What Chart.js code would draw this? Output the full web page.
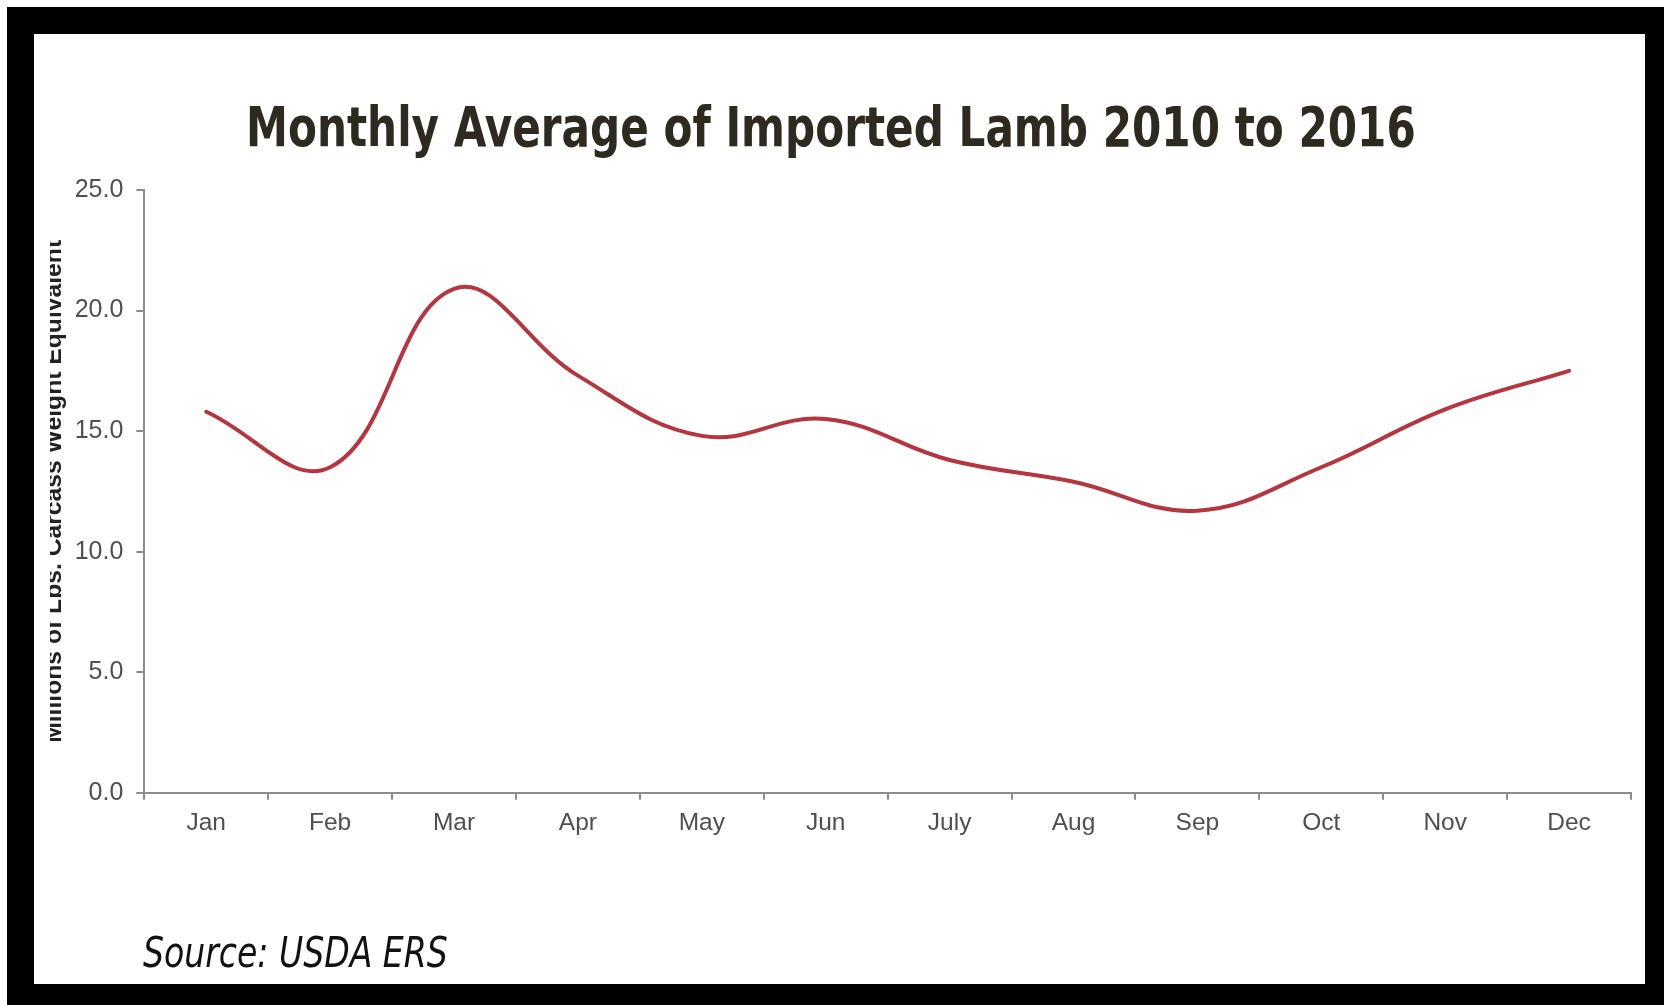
<!DOCTYPE html>
<html>
<head>
<meta charset="utf-8">
<title>Monthly Average of Imported Lamb 2010 to 2016</title>
<script src="https://cdn.jsdelivr.net/npm/chart.js@4.4.1/dist/chart.umd.min.js"></script>
<style>
  html, body { margin: 0; padding: 0; width: 1664px; height: 1005px; overflow: hidden; background: #fff; }
  #frame { position: absolute; left: 7px; top: 7px; width: 1657px; height: 998px; background: #000; }
  #panel { position: absolute; left: 34px; top: 34px; width: 1611px; height: 950px; background: #fff; }
  #wrap { position: absolute; left: 0; top: 0; width: 1611px; height: 950px; }
  #heading { position: absolute; left: 212px; top: 61px; margin: 0; line-height: 55px; white-space: nowrap;
             font: bold 55px 'DejaVu Sans Condensed', 'Liberation Sans Narrow', sans-serif; color: #2e2a1f;
             transform: scaleX(0.852); transform-origin: 0 0; }
  #source { position: absolute; left: 109px; top: 893px; margin: 0; line-height: 42px; white-space: nowrap;
            font: italic 43px 'DejaVu Sans Condensed', 'Liberation Sans Narrow', sans-serif; color: #111;
            transform: scaleX(0.855); transform-origin: 0 0; }
</style>
</head>
<body>
<div id="frame"></div>
<div id="panel">
  <div id="wrap"><canvas id="chart"></canvas></div>
  <h1 id="heading">Monthly Average of Imported Lamb 2010 to 2016</h1>
  <p id="source">Source: USDA ERS</p>
</div>
<script>
// Monthly average imported lamb, millions of lbs. (carcass weight equivalent)
const months = ['Jan', 'Feb', 'Mar', 'Apr', 'May', 'Jun', 'July', 'Aug', 'Sep', 'Oct', 'Nov', 'Dec'];
const importedLamb = [15.8, 13.5, 20.9, 17.3, 14.8, 15.5, 13.8, 12.9, 11.7, 13.5, 15.9, 17.5];
const yTicks = [0, 5, 10, 15, 20, 25];

const yAxisTitle = 'Millions of Lbs. Carcass Weight Equivalent';

const AXIS_GREY = '#8c8c8c';
const TICK_TEXT = '#4f4f4f';

// The axis caption is trimmed along a vertical edge on its left side.
const CLIP_X = 16;
const clipLeftEdge = {
  id: 'clipLeftEdge',
  beforeDraw(chart) {
    const ctx = chart.ctx;
    ctx.save();
    ctx.beginPath();
    ctx.rect(CLIP_X, 0, chart.width - CLIP_X, chart.height);
    ctx.clip();
  },
  afterDraw(chart) {
    chart.ctx.restore();
  }
};

new Chart(document.getElementById('chart'), {
  type: 'line',
  data: {
    labels: months,
    datasets: [{
      data: importedLamb,
      borderColor: '#b7353e',
      borderWidth: 4,
      borderCapStyle: 'round',
      borderJoinStyle: 'round',
      tension: 0.4,
      pointRadius: 0,
      pointHoverRadius: 0,
      fill: false
    }]
  },
  options: {
    responsive: true,
    maintainAspectRatio: false,
    animation: false,
    events: [],
    layout: { padding: { left: 5.7, right: 14, top: 156, bottom: 131.3 } },
    plugins: {
      legend: { display: false },
      tooltip: { enabled: false },
      title: { display: false }
    },
    scales: {
      x: {
        offset: true,
        afterFit(scale) { scale.height = 60; },
        grid: { offset: true, drawOnChartArea: false, drawTicks: true, tickLength: 7, color: AXIS_GREY, lineWidth: 2 },
        border: { display: true, color: AXIS_GREY, width: 2 },
        ticks: { color: TICK_TEXT, padding: 9, maxRotation: 0, autoSkip: false,
                 font: { family: "'Liberation Sans', Arial, sans-serif", size: 24.5 } }
      },
      y: {
        min: 0,
        max: 25,
        afterFit(scale) { scale.width = 104.6; },
        afterBuildTicks(scale) { scale.ticks = yTicks.map(v => ({ value: v })); },
        grid: { drawOnChartArea: false, drawTicks: true, tickLength: 8, color: AXIS_GREY, lineWidth: 2 },
        border: { display: true, color: AXIS_GREY, width: 2 },
        ticks: { color: TICK_TEXT, padding: 13,
                 font: { family: "'Liberation Sans', Arial, sans-serif", size: 25 },
                 callback: v => Number(v).toFixed(1) },
        title: {
          display: true,
          text: yAxisTitle,
          color: '#222222',
          padding: 0,
          font: { family: "'Liberation Sans', Arial, sans-serif", weight: 'bold', size: 24.7, lineHeight: 1.2 }
        }
      }
    }
  },
  plugins: [clipLeftEdge]
});
</script>
</body>
</html>
